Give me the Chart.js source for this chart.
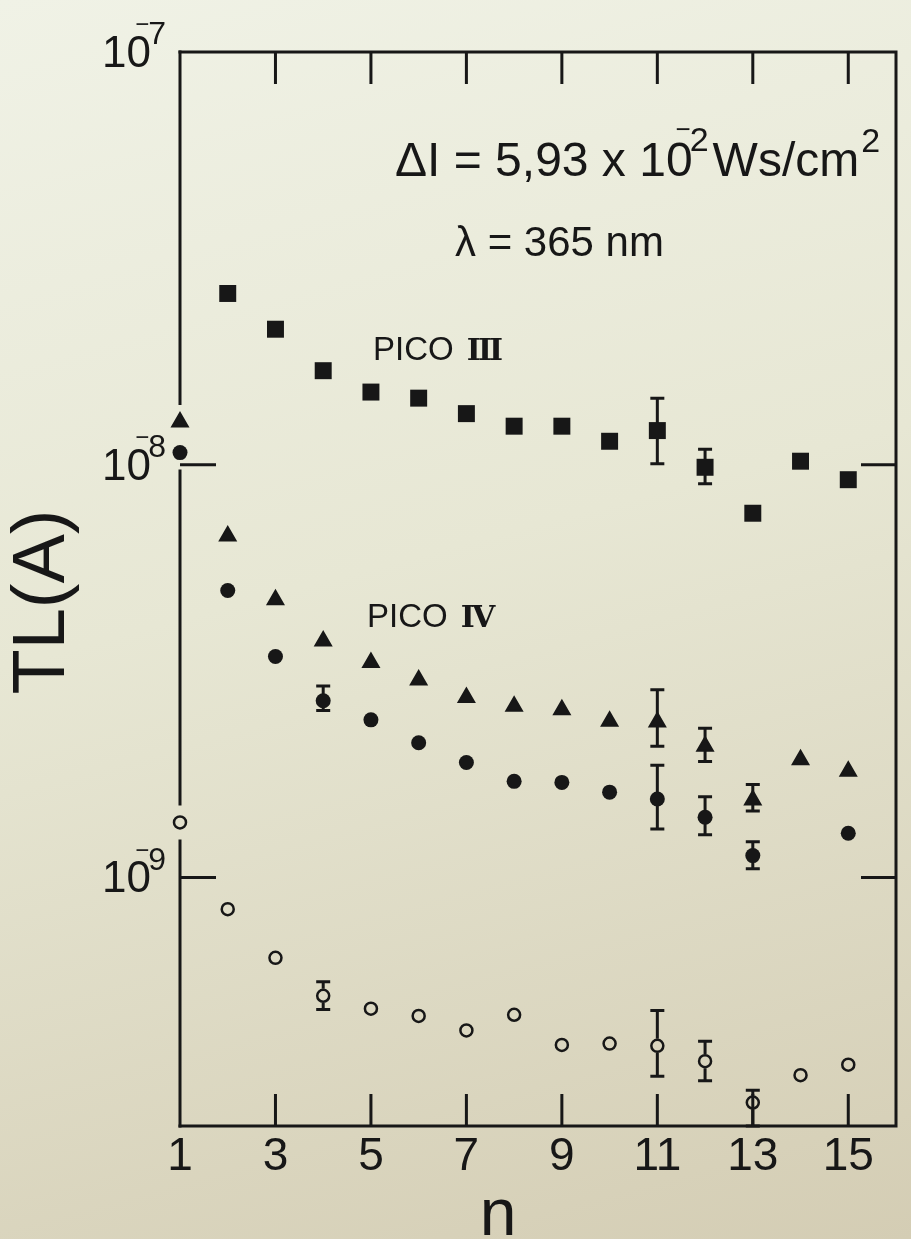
<!DOCTYPE html>
<html>
<head>
<meta charset="utf-8">
<title>TL vs n</title>
<script src="https://cdn.jsdelivr.net/npm/chart.js@4.4.1/dist/chart.umd.min.js"></script>
<style>
  html, body { margin: 0; padding: 0; }
  body {
    width: 911px; height: 1239px; overflow: hidden;
    background: linear-gradient(165deg, #f0f2e6 0%, #e7e7d4 45%, #d4cdb4 100%);
  }
  #tlChart { display: block; }
</style>
</head>
<body>
<canvas id="tlChart" width="911" height="1239"></canvas>
<script>
// Thermoluminescence peak current vs. number of cycles n
const nValues = [1, 2, 3, 4, 5, 6, 7, 8, 9, 10, 11, 12, 13, 14, 15];

// PICO III (squares), no point at n = 1
const picoIII = [null, 2.60e-8, 2.13e-8, 1.69e-8, 1.50e-8, 1.45e-8, 1.33e-8, 1.24e-8,
                 1.24e-8, 1.14e-8, 1.21e-8, 9.86e-9, 7.63e-9, 1.02e-8, 9.2e-9];
// PICO IV (triangles)
const picoIVa = [1.27e-8, 6.72e-9, 4.71e-9, 3.74e-9, 3.32e-9, 3.01e-9, 2.73e-9, 2.60e-9,
                 2.55e-9, 2.39e-9, 2.38e-9, 2.08e-9, 1.54e-9, 1.93e-9, 1.81e-9];
// PICO IV (filled circles), nothing at n = 14
const picoIVb = [1.07e-8, 4.96e-9, 3.43e-9, 2.68e-9, 2.41e-9, 2.12e-9, 1.90e-9, 1.71e-9,
                 1.70e-9, 1.61e-9, 1.55e-9, 1.40e-9, 1.13e-9, null, 1.28e-9];
// open circles
const lowSeries = [1.36e-9, 8.38e-10, 6.39e-10, 5.17e-10, 4.81e-10, 4.62e-10, 4.26e-10, 4.65e-10,
                   3.93e-10, 3.96e-10, 3.91e-10, 3.59e-10, 2.85e-10, 3.32e-10, 3.52e-10];

// error bars: [n, low, high]
const errPicoIII = [[11, 1.005e-8, 1.45e-8], [12, 9.0e-9, 1.09e-8]];
const errPicoIVa = [[11, 2.08e-9, 2.85e-9], [12, 1.91e-9, 2.30e-9], [13, 1.45e-9, 1.68e-9]];
const errPicoIVb = [[4, 2.54e-9, 2.91e-9], [11, 1.31e-9, 1.87e-9], [12, 1.27e-9, 1.57e-9], [13, 1.05e-9, 1.22e-9]];
const errLow = [[4, 4.79e-10, 5.59e-10], [11, 3.30e-10, 4.76e-10], [12, 3.22e-10, 4.01e-10], [13, 2.5e-10, 3.05e-10]];

const xTickValues = [1, 3, 5, 7, 9, 11, 13, 15];
const yTickValues = [1e-7, 1e-8, 1e-9];
const xInnerTicks = [3, 5, 7, 9, 11, 13, 15];
const yInnerTicks = [1e-8, 1e-9];

const FONT = '"Liberation Sans", Arial, Helvetica, sans-serif';
const NUMERAL_FONT = 'bold 30px "DejaVu Serif", "Liberation Serif", serif';
const INK = '#171717';

function points(values) {
  return nValues.map((n, i) => ({ x: n, y: values[i] })).filter(p => p.y != null);
}

// "10" with the exponent written as a barred digit above the zero
function drawPower(ctx, x, baseline, big, small, exp) {
  ctx.textAlign = 'left';
  ctx.textBaseline = 'alphabetic';
  ctx.font = big + 'px ' + FONT;
  ctx.fillText('10', x, baseline);
  const w10 = ctx.measureText('10').width;
  const top = baseline - 0.72 * big;
  ctx.font = small + 'px ' + FONT;
  const ex = x + w10 - 0.06 * big;
  ctx.fillText(exp, ex, top + 0.2 * big);
  ctx.font = Math.round(small * 0.75) + 'px ' + FONT;
  ctx.textAlign = 'center';
  ctx.textBaseline = 'middle';
  ctx.fillText('\u2212', x + w10 - 0.2 * big, top - 0.22 * big);
  ctx.textAlign = 'left';
  ctx.textBaseline = 'alphabetic';
  ctx.font = small + 'px ' + FONT;
  return ex + ctx.measureText(exp).width;
}

// "PICO" followed by a slab-serif roman numeral
function drawPeakLabel(ctx, x, baseline, numeral) {
  ctx.textAlign = 'left';
  ctx.textBaseline = 'alphabetic';
  ctx.font = '33px ' + FONT;
  ctx.fillText('PICO', x, baseline);
  const w = ctx.measureText('PICO ').width;
  ctx.font = NUMERAL_FONT;
  ctx.letterSpacing = '-3px';
  ctx.fillText(numeral, x + w + 4, baseline);
  ctx.letterSpacing = '0px';
}

const errorBars = {
  id: 'errorBars',
  beforeDatasetsDraw(chart) {
    const ctx = chart.ctx, xs = chart.scales.x, ys = chart.scales.y;
    ctx.save();
    ctx.strokeStyle = INK;
    ctx.lineWidth = 3;
    chart.data.datasets.forEach(ds => {
      (ds.errorBars || []).forEach(([n, lo, hi]) => {
        const pt = ds.data.find(p => p.x === n);
        const x = xs.getPixelForValue(n);
        const yLo = ys.getPixelForValue(lo);
        const yHi = ys.getPixelForValue(hi);
        const yPt = ys.getPixelForValue(pt.y);
        const gap = ds.barGap || 0;
        ctx.beginPath();
        ctx.moveTo(x, yHi); ctx.lineTo(x, yPt - gap);
        ctx.moveTo(x, yPt + gap); ctx.lineTo(x, yLo);
        ctx.moveTo(x - 7, yHi); ctx.lineTo(x + 7, yHi);
        ctx.moveTo(x - 7, yLo); ctx.lineTo(x + 7, yLo);
        ctx.stroke();
      });
    });
    ctx.restore();
  }
};

const frameAndText = {
  id: 'frameAndText',
  afterDraw(chart) {
    const ctx = chart.ctx, xs = chart.scales.x, ys = chart.scales.y;
    const { left, right, top, bottom } = chart.chartArea;
    ctx.save();
    ctx.strokeStyle = INK;
    ctx.fillStyle = INK;
    ctx.lineWidth = 3;
    ctx.lineCap = 'square';

    // top, right and bottom sides of the box
    ctx.beginPath();
    ctx.moveTo(left, top); ctx.lineTo(right, top);
    ctx.lineTo(right, bottom); ctx.lineTo(left, bottom);
    ctx.stroke();

    // left side, broken where the n = 1 markers sit on it
    const gaps = [];
    chart.data.datasets.forEach(ds => {
      const p = ds.data.find(d => d.x === 1);
      if (p) { const y = ys.getPixelForValue(p.y); gaps.push([y - 17, y + 17]); }
    });
    gaps.sort((a, b) => a[0] - b[0]);
    const merged = [];
    gaps.forEach(g => {
      const last = merged[merged.length - 1];
      if (last && g[0] <= last[1]) last[1] = Math.max(last[1], g[1]);
      else merged.push(g.slice());
    });
    ctx.lineCap = 'butt';
    ctx.beginPath();
    let y0 = top - 1.5;
    merged.forEach(([a, b]) => { ctx.moveTo(left, y0); ctx.lineTo(left, a); y0 = b; });
    ctx.moveTo(left, y0); ctx.lineTo(left, bottom + 1.5);
    ctx.stroke();

    // inward ticks
    ctx.beginPath();
    xInnerTicks.forEach(n => {
      const x = xs.getPixelForValue(n);
      ctx.moveTo(x, bottom); ctx.lineTo(x, bottom - 32);
      ctx.moveTo(x, top); ctx.lineTo(x, top + 32);
    });
    yInnerTicks.forEach(v => {
      const y = ys.getPixelForValue(v);
      ctx.moveTo(left, y); ctx.lineTo(left + 36, y);
      ctx.moveTo(right, y); ctx.lineTo(right - 35, y);
    });
    ctx.stroke();

    // x tick labels
    ctx.font = '46px ' + FONT;
    ctx.textAlign = 'center';
    ctx.textBaseline = 'alphabetic';
    xTickValues.forEach(n => ctx.fillText(String(n), xs.getPixelForValue(n), 1170));

    // y tick labels
    yTickValues.forEach(v => {
      const y = ys.getPixelForValue(v);
      const exp = String(Math.round(-Math.log10(v)));
      drawPower(ctx, left - 78, y + 15, 44, 32, exp);
    });

    // axis titles
    ctx.font = '66px ' + FONT;
    ctx.textAlign = 'center';
    ctx.fillText('n', 498, 1235);
    ctx.save();
    ctx.translate(44, 602);
    ctx.rotate(-Math.PI / 2);
    ctx.font = '74px ' + FONT;
    ctx.textBaseline = 'middle';
    ctx.fillText('TL(A)', 0, 0);
    ctx.restore();

    // exposure and wavelength
    ctx.textAlign = 'left';
    ctx.textBaseline = 'alphabetic';
    ctx.font = '48px ' + FONT;
    let x = 395;
    const head = '\u0394I = 5,93 x ';
    ctx.fillText(head, x, 176);
    x += ctx.measureText(head).width;
    x = drawPower(ctx, x, 176, 48, 34, '2');
    ctx.font = '48px ' + FONT;
    ctx.fillText('Ws/cm', x + 4, 176);
    x += 4 + ctx.measureText('Ws/cm').width;
    ctx.font = '34px ' + FONT;
    ctx.fillText('2', x + 2, 152);

    ctx.font = '42px ' + FONT;
    ctx.fillText('\u03bb = 365 nm', 455, 256);

    // peak labels
    drawPeakLabel(ctx, 373, 360, 'III');
    drawPeakLabel(ctx, 367, 627, 'IV');

    ctx.restore();
  }
};

new Chart(document.getElementById('tlChart'), {
  type: 'scatter',
  data: {
    datasets: [
      {
        label: 'PICO III',
        data: points(picoIII),
        errorBars: errPicoIII,
        pointStyle: 'rect', pointRadius: 12,
        backgroundColor: INK, borderColor: INK, borderWidth: 0,
        clip: false
      },
      {
        label: 'PICO IV triangles',
        data: points(picoIVa),
        errorBars: errPicoIVa,
        pointStyle: 'triangle', pointRadius: 9,
        backgroundColor: INK, borderColor: INK, borderWidth: 2,
        clip: false
      },
      {
        label: 'PICO IV circles',
        data: points(picoIVb),
        errorBars: errPicoIVb,
        pointStyle: 'circle', pointRadius: 7.5,
        backgroundColor: INK, borderColor: INK, borderWidth: 0,
        clip: false
      },
      {
        label: 'open circles',
        data: points(lowSeries),
        errorBars: errLow,
        barGap: 7,
        pointStyle: 'circle', pointRadius: 6,
        backgroundColor: 'rgba(0,0,0,0)', borderColor: INK, borderWidth: 2.5,
        clip: false
      }
    ]
  },
  options: {
    responsive: false,
    devicePixelRatio: 1,
    animation: false,
    layout: { padding: { left: 180, right: 15, top: 52, bottom: 113 } },
    plugins: { legend: { display: false }, tooltip: { enabled: false } },
    scales: {
      x: { type: 'linear', min: 1, max: 16, display: false },
      y: { type: 'logarithmic', min: 2.5e-10, max: 1e-7, display: false }
    }
  },
  plugins: [errorBars, frameAndText]
});
</script>
</body>
</html>
